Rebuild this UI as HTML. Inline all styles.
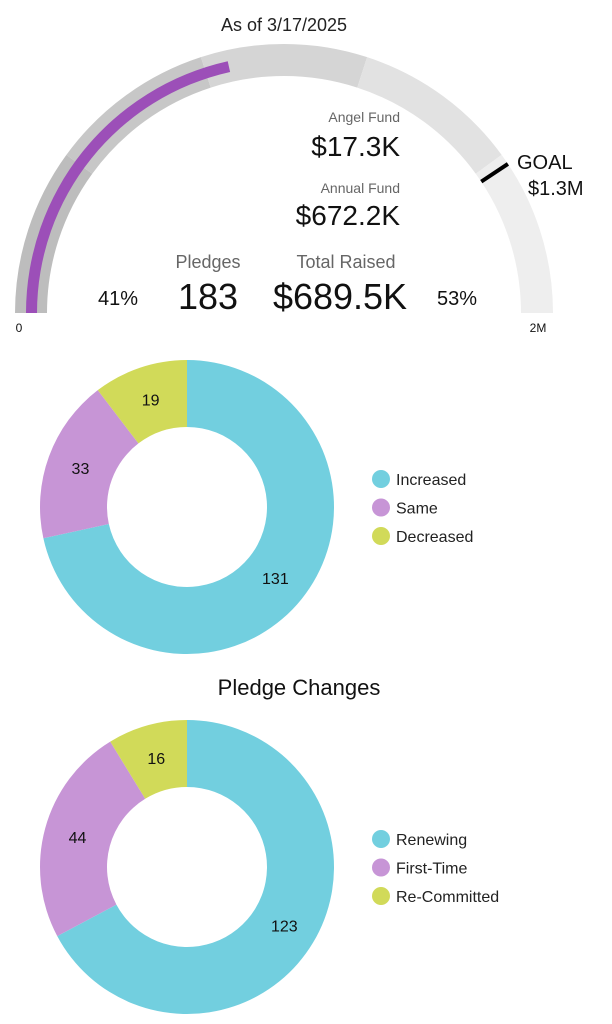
<!DOCTYPE html>
<html><head><meta charset="utf-8"><style>
body{margin:0;background:#fff;width:612px;height:1024px;overflow:hidden;font-family:"Liberation Sans",sans-serif}
svg{display:block}
</style></head><body>
<svg id="s" width="612" height="1024" font-family="Liberation Sans, sans-serif">
<text x="284" y="31" font-size="18" text-anchor="middle" fill="#222">As of 3/17/2025</text>
<g id="gauge"></g>
<text x="400" y="122" font-size="14" text-anchor="end" fill="#666">Angel Fund</text>
<text x="400" y="156" font-size="28" text-anchor="end" fill="#111">$17.3K</text>
<text x="400" y="193" font-size="14" text-anchor="end" fill="#666">Annual Fund</text>
<text x="400" y="225" font-size="28" text-anchor="end" fill="#111">$672.2K</text>
<text x="208" y="268" font-size="18" text-anchor="middle" fill="#666">Pledges</text>
<text x="208" y="309" font-size="36" text-anchor="middle" fill="#111">183</text>
<text x="346" y="268" font-size="18" text-anchor="middle" fill="#666">Total Raised</text>
<text x="340" y="309" font-size="36" text-anchor="middle" fill="#111">$689.5K</text>
<text x="118" y="305" font-size="20" text-anchor="middle" fill="#111">41%</text>
<text x="457" y="305" font-size="20" text-anchor="middle" fill="#111">53%</text>
<text x="517" y="169" font-size="20" fill="#111">GOAL</text>
<text x="528" y="195" font-size="20" fill="#111">$1.3M</text>
<text x="19" y="332" font-size="12" text-anchor="middle" fill="#111">0</text>
<text x="538" y="332" font-size="12" text-anchor="middle" fill="#111">2M</text>
<g id="d1"></g>
<text x="299" y="695" font-size="22" text-anchor="middle" fill="#111">Pledge Changes</text>
<g id="d2"></g>
</svg>
<script>
const gaugeBands=[0,0.2,0.4,0.6,0.8,1];
const gaugeColors=["#bdbdbd","#c7c7c7","#d5d5d5","#e2e2e2","#eeeeee"];
const progressFraction=0.43;
const goalFraction=0.813;
const d1Cats=["Increased","Same","Decreased"];
const d1Vals=[131,33,19];
const d2Cats=["Renewing","First-Time","Re-Committed"];
const d2Vals=[123,44,16];
const colors=["#72cfdf","#c795d6","#d1da59"];
const NS="http://www.w3.org/2000/svg";
function mk(t,a,p){const e=document.createElementNS(NS,t);for(const k in a)e.setAttribute(k,a[k]);p.appendChild(e);return e;}
const cx=284,cy=313;
function gp(f,r){const a=Math.PI*(1-f);return [cx+r*Math.cos(a),cy-r*Math.sin(a)];}
function band(f0,f1,r0,r1){const a=gp(f0,r1),b=gp(f1,r1),c=gp(f1,r0),d=gp(f0,r0);
return `M${a}A${r1},${r1} 0 0 1 ${b}L${c}A${r0},${r0} 0 0 0 ${d}Z`;}
const g=document.getElementById('gauge');
for(let i=0;i<gaugeColors.length;i++){
const p=mk('path',{d:band(gaugeBands[i],gaugeBands[i+1],237,269),fill:gaugeColors[i]},g);

}
const pr=mk('path',{d:band(0,progressFraction,247,258),fill:"#9c4fb8"},g);


const q1=gp(goalFraction,237),q2=gp(goalFraction,269);
const gl=mk('line',{x1:q1[0],y1:q1[1],x2:q2[0],y2:q2[1],stroke:"#000","stroke-width":4},g);


function donut(id,cats,vals,ox,oy){
const G=document.getElementById(id);const R=147,r=80;const tot=vals.reduce((a,b)=>a+b,0);
let acc=0;
vals.forEach((v,i)=>{
const a0=acc/tot*2*Math.PI,a1=(acc+v)/tot*2*Math.PI;acc+=v;
const P=(a,rr)=>[ox+rr*Math.sin(a),oy-rr*Math.cos(a)];
const lg=(a1-a0)>Math.PI?1:0;
const s=mk('path',{d:`M${P(a0,R)}A${R},${R} 0 ${lg} 1 ${P(a1,R)}L${P(a1,r)}A${r},${r} 0 ${lg} 0 ${P(a0,r)}Z`,fill:colors[i]},G);


const m=P((a0+a1)/2,(R+r)/2);
const t=mk('text',{x:m[0],y:m[1]+6,"font-size":16,"text-anchor":"middle",fill:"#111"},G);t.textContent=v;


const ly=oy-28+i*28.5;
const c=mk('circle',{cx:381,cy:ly,r:9,fill:colors[i]},G);


const lt=mk('text',{x:396,y:ly+6,"font-size":16,fill:"#222"},G);lt.textContent=cats[i];


});}
donut('d1',d1Cats,d1Vals,187,507);
donut('d2',d2Cats,d2Vals,187,867);
</script>
</body></html>
